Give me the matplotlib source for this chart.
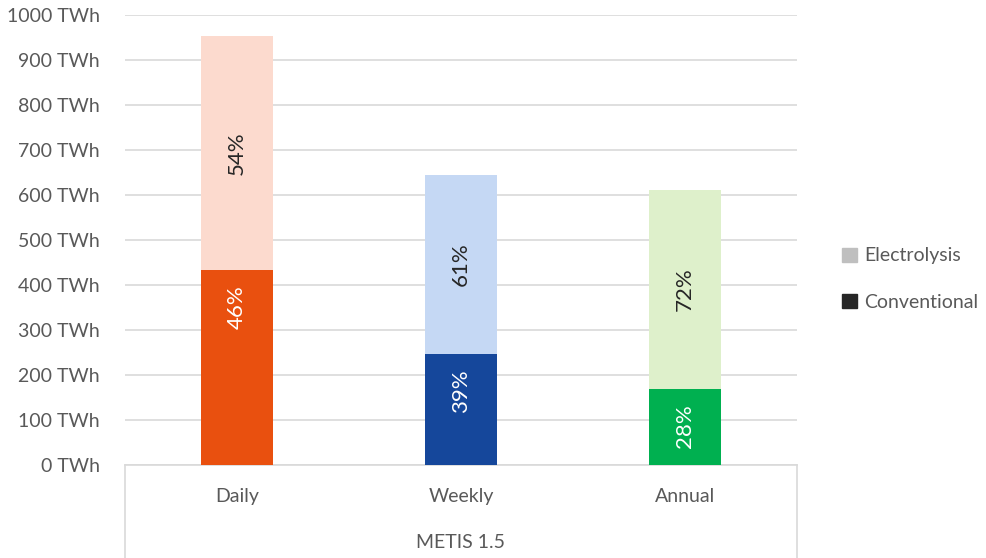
import matplotlib.pyplot as plt
from matplotlib.patches import Patch

plt.rcParams['font.family'] = ['Lato', 'DejaVu Sans']

categories = ['Daily', 'Weekly', 'Annual']
group_label = 'METIS 1.5'
conventional = [433, 247, 169]
electrolysis = [520, 397, 442]
conv_pct = ['46%', '39%', '28%']
elec_pct = ['54%', '61%', '72%']
light_colors = ['#FCDACE', '#C5D8F4', '#DEF0CB']
dark_colors = ['#E9500F', '#15479B', '#00B050']
yticks = list(range(0, 1001, 100))

W, H = 987, 558
fig = plt.figure(figsize=(W / 100, H / 100), dpi=100)
ax = fig.add_axes([125 / W, (H - 465) / H, 672 / W, 450 / H])

x = range(len(categories))
ax.bar(x, conventional, width=0.32, color=dark_colors, zorder=3)
ax.bar(x, electrolysis, width=0.32, bottom=conventional, color=light_colors, zorder=3)

for i in x:
    c = conventional[i]
    e = electrolysis[i]
    # conventional labels sit near the inside end of the segment
    ax.annotate(conv_pct[i], (i, c), xytext=(0, -11), textcoords='offset points',
                rotation=90, ha='center', va='top', color='white', fontsize=16, zorder=4)
    ax.text(i, c + e / 2, elec_pct[i], rotation=90, ha='center', va='center',
            color='#262626', fontsize=16, zorder=4)

ax.set_xlim(-0.5, 2.5)
ax.set_ylim(0, 1000)
ax.set_yticks(yticks)
ax.set_yticklabels([f'{v} TWh' for v in yticks])
ax.tick_params(axis='y', length=0, pad=18, labelsize=14, labelcolor='#595959')
ax.set_xticks([])
ax.grid(axis='y', color='#D9D9D9', linewidth=1.2, zorder=0)
for s in ['top', 'right', 'left']:
    ax.spines[s].set_visible(False)
ax.spines['bottom'].set_color('#D9D9D9')
ax.spines['bottom'].set_linewidth(1.2)

# two-level category axis
for xe in [-0.5, 2.5]:
    ax.plot([xe, xe], [0, -207], color='#D9D9D9', linewidth=1.2, clip_on=False)
for i in x:
    ax.text(i, -71, categories[i], ha='center', va='center', fontsize=14, color='#595959')
ax.text(1, -173, group_label, ha='center', va='center', fontsize=14, color='#595959')

handles = [Patch(color='#BFBFBF', label='Electrolysis'),
           Patch(color='#262626', label='Conventional')]
fig.legend(handles=handles, loc='center left', bbox_to_anchor=(825 / W, 1 - 279 / H),
           frameon=False, fontsize=14, labelcolor='#595959', handlelength=0.75,
           handleheight=0.75, handletextpad=0.35, labelspacing=1.5)

fig.savefig('out.png', dpi=100)
